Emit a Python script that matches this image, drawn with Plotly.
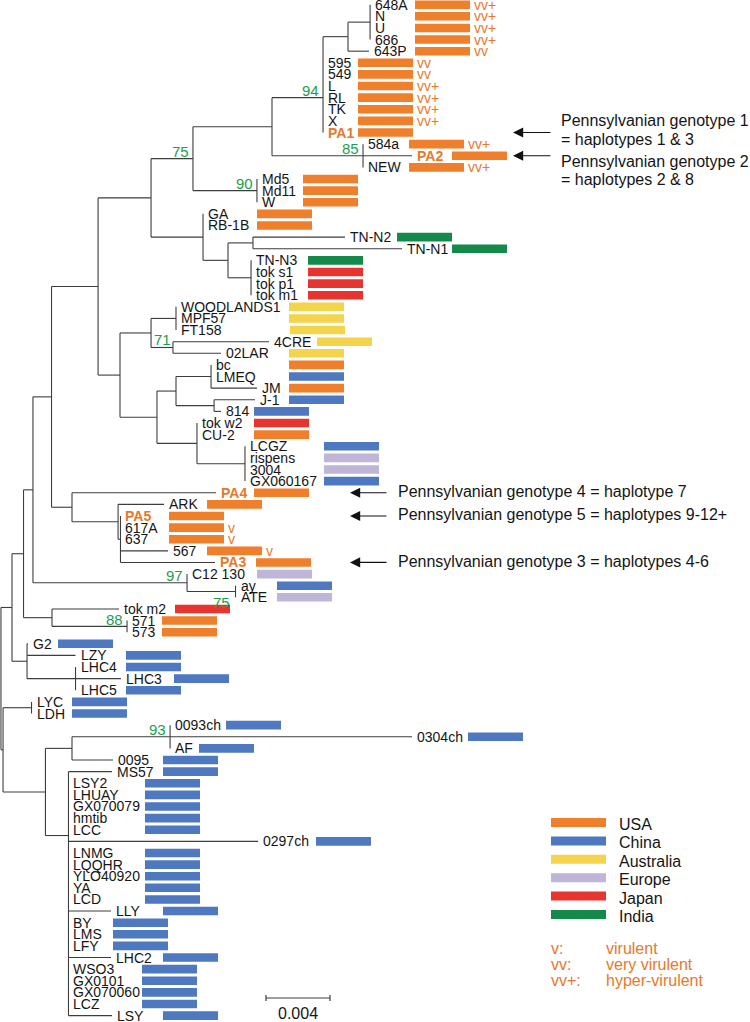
import plotly.graph_objects as go

# ------------------------------------------------------------------ data
# strains, top to bottom
LEAVES = ["648A", "N", "U", "686", "643P", "595", "549", "L", "RL", "TK", "X", "PA1",
          "584a", "PA2", "NEW", "Md5", "Md11", "W", "GA", "RB-1B", "TN-N2", "TN-N1",
          "TN-N3", "tok s1", "tok p1", "tok m1", "WOODLANDS1", "MPF57", "FT158", "4CRE",
          "02LAR", "bc", "LMEQ", "JM", "J-1", "814", "tok w2", "CU-2", "LCGZ", "rispens",
          "3004", "GX060167", "PA4", "ARK", "PA5", "617A", "637", "567", "PA3", "C12 130",
          "ay", "ATE", "tok m2", "571", "573", "G2", "LZY", "LHC4", "LHC3", "LHC5", "LYC",
          "LDH", "0093ch", "0304ch", "AF", "0095", "MS57", "LSY2", "LHUAY", "GX070079",
          "hmtib", "LCC", "0297ch", "LNMG", "LQQHR", "YLO40920", "YA", "LCD", "LLY", "BY",
          "LMS", "LFY", "LHC2", "WSO3", "GX0101", "GX070060", "LCZ", "LSY"]

# country of origin of each strain (same order as LEAVES)
COUNTRY = (["USA"] * 20 + ["India"] * 3 + ["Japan"] * 3 + ["Australia"] * 5 +
           ["USA", "China", "USA", "China", "China", "Japan", "USA",
            "China", "Europe", "Europe", "China",
            "USA", "USA", "USA", "USA", "USA", "USA", "USA",
            "Europe", "China", "Europe", "Japan", "USA", "USA"] +
           ["China"] * 33)

# pathotype
VIRULENCE = {"648A": "vv+", "N": "vv+", "U": "vv+", "686": "vv+", "643P": "vv",
             "595": "vv", "549": "vv", "L": "vv+", "RL": "vv+", "TK": "vv+", "X": "vv+",
             "584a": "vv+", "NEW": "vv+", "617A": "v", "637": "v", "567": "v"}

# internal nodes: id, parent, depth from root (substitutions / site)
NODES = ["root", "nAA", "nY", "nW", "nJ", "nI", "nF", "nE", "nD", "n94", "n643", "n648",
         "n85", "n90", "nGA", "nH", "nTN", "ntok", "nK", "n71", "nWood", "n4CRE", "nL",
         "nM", "nbc", "nJ1", "nCU2", "nLCGZ", "nPA4", "nARK", "nPA5", "n97", "n75b", "nm2",
         "n88", "nG2", "nLHC", "nAG", "nLYC", "nAH", "n0095", "n93", "nMS57"]
NODE_PARENT = [None, "root", "nAA", "nY", "nW", "nJ", "nI", "nF", "nE", "nD", "n94", "n643",
               "nD", "nE", "nF", "nGA", "nH", "nH", "nI", "nK", "n71", "n71", "nK",
               "nL", "nM", "nM", "nL", "nCU2", "nJ", "nPA4", "nARK", "nW", "n97", "nY",
               "nm2", "nAA", "nG2", "root", "nAG", "nAG", "nAH", "n0095", "nAH"]
NODE_DEPTH = [0.00006, 0.00075, 0.00147, 0.00206, 0.00322, 0.00613, 0.00944, 0.01206,
              0.01700, 0.02019, 0.02175, 0.02313, 0.02269, 0.01606, 0.01269, 0.01425,
              0.01581, 0.01569, 0.00750, 0.00944, 0.01100, 0.01081, 0.00981, 0.01100,
              0.01319, 0.01338, 0.01231, 0.01531, 0.00450, 0.00738, 0.00753, 0.01169,
              0.01472, 0.00325, 0.00794, 0.00169, 0.00472, 0.00019, 0.00197, 0.00284,
              0.00450, 0.01063, 0.00428]

# strains hanging directly from each internal node
NODE_LEAVES = {
    "n648": ["648A", "N", "U", "686"], "n643": ["643P"],
    "n94": ["595", "549", "L", "RL", "TK", "X", "PA1"],
    "n85": ["584a", "PA2", "NEW"], "n90": ["Md5", "Md11", "W"], "nGA": ["GA", "RB-1B"],
    "nTN": ["TN-N2", "TN-N1"], "ntok": ["TN-N3", "tok s1", "tok p1", "tok m1"],
    "nWood": ["WOODLANDS1", "MPF57", "FT158"], "n4CRE": ["4CRE", "02LAR"],
    "nbc": ["bc", "LMEQ", "JM"], "nJ1": ["J-1", "814"], "nCU2": ["tok w2", "CU-2"],
    "nLCGZ": ["LCGZ", "rispens", "3004", "GX060167"], "nPA4": ["PA4"], "nARK": ["ARK"],
    "nPA5": ["PA5", "617A", "637", "567", "PA3"], "n97": ["C12 130"], "n75b": ["ay", "ATE"],
    "nm2": ["tok m2"], "n88": ["571", "573"], "nG2": ["G2", "LZY"],
    "nLHC": ["LHC4", "LHC3", "LHC5"], "nLYC": ["LYC", "LDH"],
    "n93": ["0093ch", "0304ch", "AF"], "n0095": ["0095"],
    "nMS57": ["MS57", "LSY2", "LHUAY", "GX070079", "hmtib", "LCC", "0297ch", "LNMG",
              "LQQHR", "YLO40920", "YA", "LCD", "LLY", "BY", "LMS", "LFY", "LHC2", "WSO3",
              "GX0101", "GX070060", "LCZ", "LSY"],
}
# tip depth of strains with a non-zero terminal branch
LEAF_TIP = {"643P": 0.02306, "PA2": 0.02575, "TN-N2": 0.02156, "TN-N1": 0.02513,
            "4CRE": 0.01681, "02LAR": 0.01381, "JM": 0.01606, "J-1": 0.01594,
            "814": 0.01381, "PA4": 0.01350, "ARK": 0.01025, "567": 0.01050,
            "PA3": 0.01344, "tok m2": 0.00744, "G2": 0.00175, "LZY": 0.00472,
            "LHC3": 0.00756, "0304ch": 0.02575, "0095": 0.00706, "MS57": 0.00700,
            "0297ch": 0.01613, "LLY": 0.00694, "LHC2": 0.00694, "LSY": 0.00700}

SUPPORT_NODE = ["nE", "n94", "n85", "n90", "n71", "n97", "n75b", "n88", "n93"]
SUPPORT_VALUE = [75, 94, 85, 90, 71, 97, 75, 88, 93]

COUNTRIES = ["USA", "China", "Australia", "Europe", "Japan", "India"]
PATHOTYPE_KEYS = ["v:", "vv:", "vv+:"]
PATHOTYPE_NAMES = ["virulent", "very virulent", "hyper-virulent"]

HIGHLIGHT = ["PA1", "PA2", "PA3", "PA4", "PA5"]
GENOTYPE_LEAF = ["PA1", "PA2", "PA4", "PA5", "PA3"]
GENOTYPE_TEXT = [["Pennsylvanian genotype 1", "= haplotypes 1 & 3"],
                 ["Pennsylvanian genotype 2", "= haplotypes 2 & 8"],
                 ["Pennsylvanian genotype 4 = haplotype 7"],
                 ["Pennsylvanian genotype 5 = haplotypes 9-12+"],
                 ["Pennsylvanian genotype 3 = haplotypes 4-6"]]
SCALE_BAR = 0.004

# ------------------------------------------------------------------ style / layout
W, H = 750, 1022
PX_PER_UNIT = 16000.0
ROW0, ROW_H = 4.7, 11.62
FONT = "Liberation Sans, Arial, Helvetica, sans-serif"
COLORS = {"USA": "#F07F2C", "China": "#4E78BF", "Australia": "#F3D44C",
          "Europe": "#BFB5D8", "Japan": "#E8342F", "India": "#15894A"}
ORANGE_TXT = "#E8782A"
GREEN_TXT = "#1E9E50"
LINE_COL = "#3d3d3d"

# left edge (px) of each strain's country bar, same order as LEAVES
BAR_LEFT_PX = [415, 415, 415, 415, 415, 358, 358, 358, 358, 358, 358, 358,
               409, 452, 409, 303, 303, 303, 257, 257, 397, 452,
               308, 308, 308, 308, 289, 289, 290, 317,
               289, 289, 289, 289, 289, 254, 254, 254, 324, 324,
               324, 324, 254, 207, 169, 169, 169, 207, 256, 257,
               277, 277, 175, 162, 162, 58, 126, 126, 174, 126, 72,
               72, 226, 468, 199, 163, 163, 145, 145, 145,
               145, 145, 316, 145, 145, 145, 145, 145, 163, 113,
               113, 113, 163, 142, 142, 142, 142, 163]
BAR_W_PX = 55
SUPPORT_PLACE = ["nw", "nw", "nw", "nw", "se", "nw", "sw", "nw", "nw"]
ANCHOR = {"n94": ("595", "PA1"), "nMS57": ("LCC", "0297ch")}


def ux(px):
    return px / PX_PER_UNIT


def uy(py):
    return (py - ROW0) / ROW_H


# ------------------------------------------------------------------ tree geometry
row = {n: i for i, n in enumerate(LEAVES)}
depth = dict(zip(NODES, NODE_DEPTH))
parent = dict(zip(NODES, NODE_PARENT))
children = {n: [] for n in NODES}
for n, p in parent.items():
    if p is not None:
        children[p].append(("node", n))
leaf_parent = {}
for p, ls in NODE_LEAVES.items():
    for l in ls:
        children[p].append(("leaf", l))
        leaf_parent[l] = p
leaf_tip = {l: LEAF_TIP.get(l, depth[leaf_parent[l]]) for l in LEAVES}

_ycache = {}


def child_y(c):
    kind, name = c
    return row[name] if kind == "leaf" else node_y(name)


def node_y(n):
    if n in _ycache:
        return _ycache[n]
    ys = [child_y(c) for c in children[n]]
    if n in ANCHOR:
        a, b = ANCHOR[n]
        y = (row[a] + row[b]) / 2
    else:
        y = (min(ys) + max(ys)) / 2
    _ycache[n] = y
    return y


xs, ys = [], []
for n in NODES:
    cy = [child_y(c) for c in children[n]]
    xs += [depth[n], depth[n], None]
    ys += [min(cy), max(cy), None]
    if parent[n] is not None:
        yn = node_y(n)
        xs += [depth[parent[n]], depth[n], None]
        ys += [yn, yn, None]
for l in LEAVES:
    p = leaf_parent[l]
    if leaf_tip[l] > depth[p] + 1e-9:
        xs += [depth[p], leaf_tip[l], None]
        ys += [row[l], row[l], None]

fig = go.Figure()
fig.add_trace(go.Scatter(x=xs, y=ys, mode="lines", line=dict(color=LINE_COL, width=1.1),
                         hoverinfo="skip", showlegend=False))

# country bars
for c in COUNTRIES:
    idx = [i for i, cc in enumerate(COUNTRY) if cc == c]
    fig.add_trace(go.Bar(
        y=[i for i in idx], x=[ux(BAR_W_PX)] * len(idx),
        base=[ux(BAR_LEFT_PX[i]) for i in idx], orientation="h", width=0.74,
        marker=dict(color=COLORS[c], line=dict(width=0)), name=c,
        hovertext=[LEAVES[i] for i in idx], hoverinfo="text", showlegend=False))

# scale bar
sx0 = ux(266)
sy = uy(998)
fig.add_trace(go.Scatter(
    x=[sx0, sx0 + SCALE_BAR, None, sx0, sx0, None, sx0 + SCALE_BAR, sx0 + SCALE_BAR],
    y=[sy, sy, None, uy(995), uy(1001), None, uy(995), uy(1001)],
    mode="lines", line=dict(color=LINE_COL, width=1.2), hoverinfo="skip", showlegend=False))

ann = []
# leaf labels
for l in LEAVES:
    if l in HIGHLIGHT:
        txt, col = "<b>%s</b>" % l, ORANGE_TXT
    else:
        txt, col = l, "#151515"
    ann.append(dict(x=leaf_tip[l], y=row[l], text=txt, xanchor="left", yanchor="middle",
                    xshift=3, yshift=0, font=dict(size=14, color=col, family=FONT)))
# pathotype labels
for i, l in enumerate(LEAVES):
    if l in VIRULENCE:
        ann.append(dict(x=ux(BAR_LEFT_PX[i] + BAR_W_PX), y=row[l], text=VIRULENCE[l],
                        xanchor="left", yanchor="middle", xshift=2, yshift=0,
                        font=dict(size=14, color=ORANGE_TXT, family=FONT)))
# bootstrap support
for n, v, place in zip(SUPPORT_NODE, SUPPORT_VALUE, SUPPORT_PLACE):
    d = dict(x=depth[n], y=node_y(n), text=str(v), yanchor="middle",
             font=dict(size=15, color=GREEN_TXT, family=FONT))
    if place == "nw":
        d.update(xanchor="right", xshift=-2, yshift=7)
    elif place == "se":
        d.update(xanchor="left", xshift=1, yshift=-7)
    else:
        d.update(xanchor="right", xshift=-4, yshift=-11)
    ann.append(d)

# genotype call-outs
arrow_geom = [(513, 552), (513, 552), (350, 388), (350, 388), (350, 388)]
for k, (leaf, lines) in enumerate(zip(GENOTYPE_LEAF, GENOTYPE_TEXT)):
    head, tail = arrow_geom[k]
    ann.append(dict(x=ux(head), y=row[leaf], text="", showarrow=True, axref="pixel",
                    ayref="pixel", ax=tail - head, ay=0, arrowhead=2, arrowsize=1.7,
                    arrowwidth=1.2, arrowcolor="#111", standoff=0, startstandoff=0))
    if len(lines) == 1:
        ann.append(dict(x=ux(398), y=row[leaf], text=lines[0], xanchor="left",
                        yanchor="middle", xshift=-2, yshift=1,
                        font=dict(size=16, color="#151515", family=FONT)))
text_rows_px = {0: (120, 139), 1: (161, 179)}
for k, (py1, py2) in text_rows_px.items():
    for line, py in zip(GENOTYPE_TEXT[k], (py1, py2)):
        ann.append(dict(x=ux(561), y=uy(py), text=line, xanchor="left", yanchor="middle",
                        xshift=-2, font=dict(size=16, color="#151515", family=FONT)))

# country legend
shapes = []
for k, c in enumerate(COUNTRIES):
    cy = 822.5 + k * 18.4
    shapes.append(dict(type="rect", xref="x", yref="y", x0=ux(551), x1=ux(606),
                       y0=uy(cy - 4.5), y1=uy(cy + 4.5), fillcolor=COLORS[c],
                       line=dict(width=0)))
    ann.append(dict(x=ux(619), y=uy(cy + 2), text=c, xanchor="left", yanchor="middle",
                    xshift=-2, font=dict(size=16, color="#151515", family=FONT)))
# pathotype legend
for k, (key, name) in enumerate(zip(PATHOTYPE_KEYS, PATHOTYPE_NAMES)):
    py = 948 + k * 16
    ann.append(dict(x=ux(551), y=uy(py), text=key, xanchor="left", yanchor="middle",
                    xshift=-2, font=dict(size=16, color=ORANGE_TXT, family=FONT)))
    ann.append(dict(x=ux(606), y=uy(py), text=name, xanchor="left", yanchor="middle",
                    xshift=-2, font=dict(size=16, color=ORANGE_TXT, family=FONT)))
# scale label
ann.append(dict(x=sx0 + SCALE_BAR / 2, y=uy(1013), text="%.3f" % SCALE_BAR,
                xanchor="center", yanchor="middle",
                font=dict(size=16, color="#151515", family=FONT)))

for a in ann:
    a.setdefault("showarrow", False)
    a.setdefault("xref", "x")
    a.setdefault("yref", "y")

fig.update_layout(
    width=W, height=H, margin=dict(l=0, r=0, t=0, b=0),
    paper_bgcolor="white", plot_bgcolor="white", showlegend=False, barmode="overlay",
    xaxis=dict(range=[0, ux(W)], visible=False, fixedrange=True),
    yaxis=dict(range=[uy(H), uy(0)], visible=False, fixedrange=True),
    annotations=ann, shapes=shapes, font=dict(family=FONT),
)
# remove the browser's default page margin so the figure fills the window exactly
fig.write_html("out.html",
               config={"displayModeBar": False, "staticPlot": False},
               post_script="document.body.style.margin='0px';"
                           "document.body.style.overflow='hidden';")
